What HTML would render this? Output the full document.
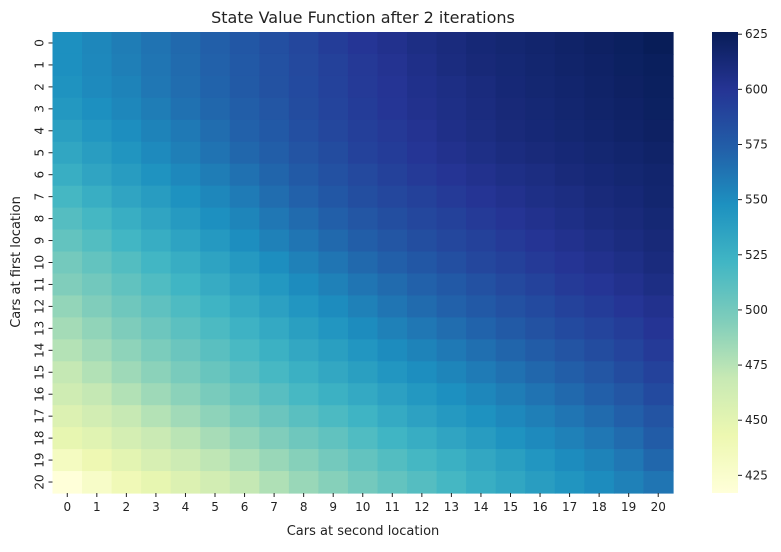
<!DOCTYPE html>
<html><head><meta charset="utf-8"><style>
body{margin:0;background:#fff;font-family:"Liberation Sans","DejaVu Sans",sans-serif}
svg text{font-family:"DejaVu Sans","Liberation Sans",sans-serif;fill:#222}
</style></head><body>
<svg id="chart" width="781" height="547" xmlns="http://www.w3.org/2000/svg">
<defs><linearGradient id="cbg" x1="0" y1="1" x2="0" y2="0">
<stop offset="0" stop-color="#ffffd9"/><stop offset="0.125" stop-color="#edf8b1"/><stop offset="0.25" stop-color="#c7e9b4"/><stop offset="0.375" stop-color="#7fcdbb"/><stop offset="0.5" stop-color="#41b6c4"/><stop offset="0.625" stop-color="#1d91c0"/><stop offset="0.75" stop-color="#225ea8"/><stop offset="0.875" stop-color="#253494"/><stop offset="1" stop-color="#081d58"/>
</linearGradient></defs>
<text x="363" y="23" font-size="16" text-anchor="middle">State Value Function after 2 iterations</text>
<g id="cells"></g>
<g id="axes"></g>
<text x="363" y="535" font-size="13" text-anchor="middle">Cars at second location</text>
<text transform="translate(20,262) rotate(-90)" font-size="13" text-anchor="middle">Cars at first location</text>
<rect x="712" y="32" width="26" height="461" fill="url(#cbg)"/>
<g id="cbar"></g>
</svg>
<script>
const rowLabels=[0,1,2,3,4,5,6,7,8,9,10,11,12,13,14,15,16,17,18,19,20];
const colLabels=[0,1,2,3,4,5,6,7,8,9,10,11,12,13,14,15,16,17,18,19,20];
const cbTicks=[425,450,475,500,525,550,575,600,625];
const row0=[548,553,558,563,568,573,578,583,588,594,599,603,607,610,613,615,617,619,621,623,626];
const row1=[548,552,557,562,567,572,577,582,587,592,597,601,605,609,612,614,616,618,620,622,624];
const row2=[546,551,555,561,566,571,576,581,586,591,596,600,604,607,610,613,615,617,619,621,623];
const row3=[543,548,553,558,564,569,574,579,585,590,595,599,603,606,609,612,614,616,618,620,622];
const row4=[538,544,549,555,560,566,572,577,583,588,593,597,601,605,608,611,613,615,617,619,621];
const row5=[533,539,545,551,557,563,569,574,580,585,591,595,599,603,606,609,611,613,615,617,619];
const row6=[527,534,540,546,552,558,564,570,576,582,587,592,596,600,603,606,608,611,613,615,617];
const row7=[520,527,534,540,547,553,559,566,572,578,584,588,592,596,600,603,606,608,611,613,616];
const row8=[513,520,527,534,541,548,554,561,567,573,579,584,588,592,596,600,603,606,609,611,614];
const row9=[507,514,521,528,535,542,549,556,562,568,574,579,584,588,592,596,600,603,606,609,612];
const row10=[500,507,514,521,528,535,542,549,556,562,568,573,578,583,588,592,596,600,603,606,610];
const row11=[495,501,508,515,522,529,536,543,550,556,562,567,572,577,582,587,591,596,599,603,607];
const row12=[488,495,502,509,516,523,530,537,544,550,556,562,567,572,577,582,586,591,595,599,603];
const row13=[482,489,496,503,510,517,524,531,538,544,550,556,561,566,571,576,581,586,590,594,600];
const row14=[476,483,490,497,504,511,518,525,532,538,544,550,555,560,565,570,575,580,585,590,596];
const row15=[470,477,484,491,498,505,512,519,526,532,538,544,549,554,559,564,569,574,579,585,591];
const row16=[464,470,477,484,491,498,505,512,519,525,531,537,543,548,553,558,563,568,573,579,586];
const row17=[455,462,469,476,483,490,497,504,511,517,523,530,536,542,547,552,557,562,567,573,580];
const row18=[447,452,460,467,474,481,488,495,502,508,515,522,528,534,540,546,551,556,561,567,575];
const row19=[433,442,450,458,465,472,479,486,493,500,507,514,520,526,532,538,544,550,555,561,569];
const row20=[417,428,439,447,455,462,470,478,486,493,500,507,513,520,527,533,539,545,550,556,562];
const values=[row0,row1,row2,row3,row4,row5,row6,row7,row8,row9,row10,row11,row12,row13,row14,row15,row16,row17,row18,row19,row20];

const NS="http://www.w3.org/2000/svg";
const X0=52.5,X1=673,Y0=32,Y1=493,VMIN=417,VMAX=626;
const cw=(X1-X0)/colLabels.length, ch=(Y1-Y0)/rowLabels.length;
const xPos=i=>X0+i*cw, yPos=j=>Y0+j*ch;
const cbY=v=>Y0+(VMAX-v)/(VMAX-VMIN)*(Y1-Y0);
const stops=["#ffffd9","#edf8b1","#c7e9b4","#7fcdbb","#41b6c4","#1d91c0","#225ea8","#253494","#081d58"].map(h=>[parseInt(h.slice(1,3),16),parseInt(h.slice(3,5),16),parseInt(h.slice(5,7),16)]);
function color(v){let t=Math.max(0,Math.min(1,(v-VMIN)/(VMAX-VMIN)))*8;let i=Math.min(7,Math.floor(t)),f=t-i;
const c=stops[i].map((a,k)=>Math.round(a+(stops[i+1][k]-a)*f));return `rgb(${c[0]},${c[1]},${c[2]})`;}
function mk(tag,attrs,parent){const e=document.createElementNS(NS,tag);for(const k in attrs)e.setAttribute(k,attrs[k]);parent.appendChild(e);return e;}
const cells=document.getElementById('cells'),axes=document.getElementById('axes'),cbar=document.getElementById('cbar');
values.forEach((row,j)=>row.forEach((v,i)=>{
 const r=mk('rect',{x:xPos(i),y:yPos(j),width:cw+0.6,height:ch+0.6,fill:color(v)},cells);
 
 
}));
colLabels.forEach((l,i)=>{
 const cx=xPos(i)+cw/2;
 mk('line',{x1:cx,x2:cx,y1:Y1,y2:Y1+4,stroke:'#222','stroke-width':1},axes);
 const t=mk('text',{x:cx,y:Y1+18,'font-size':12,'text-anchor':'middle'},axes);t.textContent=l;
 
 
});
rowLabels.forEach((l,j)=>{
 const cy=yPos(j)+ch/2;
 mk('line',{x1:X0-4,x2:X0,y1:cy,y2:cy,stroke:'#222','stroke-width':1},axes);
 const t=mk('text',{transform:`translate(${X0-9},${cy}) rotate(-90)`,'font-size':12,'text-anchor':'middle'},axes);t.textContent=l;
 
 
});
cbTicks.forEach(v=>{
 const y=cbY(v);
 mk('line',{x1:738,x2:742,y1:y,y2:y,stroke:'#222','stroke-width':1},cbar);
 const t=mk('text',{x:745,y:y+4,'font-size':12},cbar);t.textContent=v;
 
 
});
</script>
</body></html>
